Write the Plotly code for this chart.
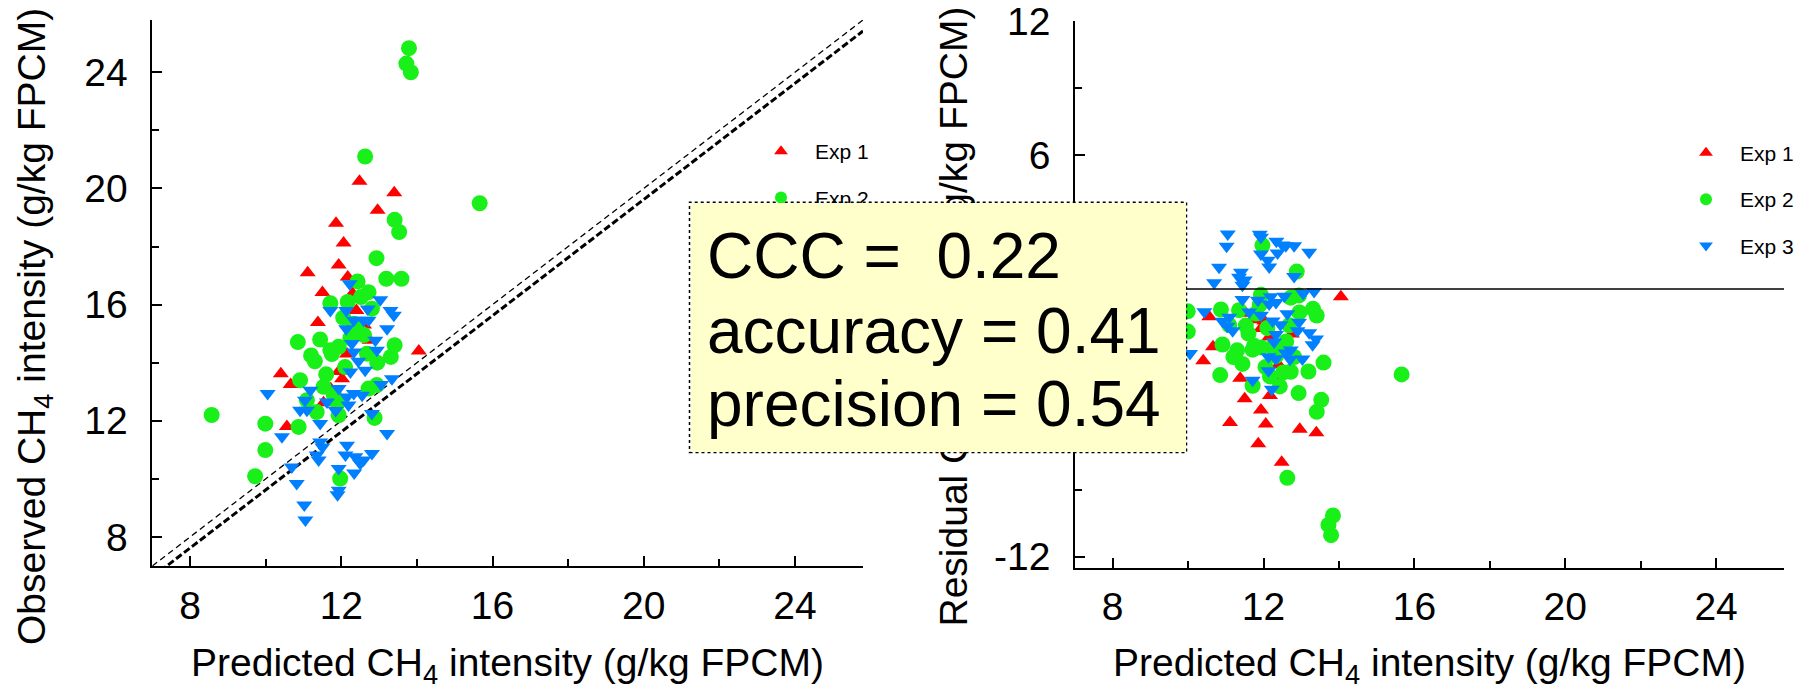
import plotly.graph_objects as go

W, H = 1795, 690
FONT = "Liberation Sans, Arial, sans-serif"

# ---------------- data ----------------
exp_names = ["Exp 1", "Exp 2", "Exp 3"]
exp_colors = ["#FF0000", "#19F019", "#0080FF"]
exp_symbols = ["triangle-up", "circle", "triangle-down"]
exp_sizes = [14, 16, 14]

exp1_pred = [12.48, 13.40, 12.96, 11.86, 12.06, 11.93, 11.11, 12.17, 11.50, 12.40,
             11.38, 12.75, 14.05, 12.15, 11.93, 10.40, 10.66, 12.02, 11.53, 10.56,
             11.72, 12.30, 12.60]
exp1_obs = [20.25, 19.85, 19.25, 18.80, 18.12, 17.36, 17.10, 16.95, 16.42, 15.80,
            15.38, 14.77, 14.40, 14.30, 13.70, 13.62, 13.25, 13.45, 12.62, 11.80,
            13.10, 16.38, 15.30]

exp2_pred = [13.79, 13.72, 13.84, 12.63, 15.66, 13.41, 13.53, 12.93, 13.19, 13.59,
             12.43, 12.72, 12.52, 11.71, 12.17, 12.81, 12.33, 12.45, 10.85, 11.44,
             11.20, 11.71, 11.93, 11.75, 12.68, 13.41, 13.31, 10.91, 11.53, 11.09,
             11.35, 11.93, 11.90, 12.72, 12.94, 12.88, 9.99, 10.87, 8.57, 9.99,
             9.72, 11.97, 12.24, 12.10, 11.30, 12.05, 12.60, 11.60, 12.95, 11.80]
exp2_obs = [24.83, 24.30, 24.00, 21.10, 19.49, 18.92, 18.50, 17.60, 16.89, 16.89,
            16.80, 16.43, 16.26, 16.05, 16.09, 15.86, 15.34, 15.10, 14.71, 14.80,
            14.25, 14.43, 14.55, 14.30, 14.31, 14.60, 14.20, 13.40, 13.17, 12.71,
            12.30, 12.19, 12.60, 13.11, 13.23, 12.10, 11.90, 11.79, 12.20, 10.99,
            10.09, 10.01, 14.85, 13.85, 14.05, 15.55, 14.95, 13.60, 14.00, 12.90]

exp3_pred = [12.22, 13.03, 11.71, 12.13, 13.30, 13.39, 12.33, 12.59, 12.72, 12.13,
             13.21, 12.28, 12.90, 12.94, 12.33, 12.24, 12.63, 13.34, 10.05, 11.18,
             11.04, 10.91, 11.09, 11.62, 11.93, 12.15, 12.33, 12.55, 12.19, 12.81,
             11.44, 10.43, 13.21, 11.44, 12.15, 11.35, 11.40, 10.69, 10.82, 11.93,
             11.93, 12.37, 12.50, 12.59, 12.81, 11.02, 11.05, 11.90, 12.34, 11.50,
             12.11, 12.70, 12.45, 13.05, 11.85]
exp3_obs = [16.72, 16.17, 15.80, 15.80, 15.80, 15.63, 15.46, 15.46, 15.46, 15.17,
            15.17, 14.66, 14.77, 14.43, 14.37, 13.68, 13.74, 13.45, 12.94, 13.05,
            12.71, 12.36, 12.36, 12.65, 13.11, 12.82, 12.94, 12.88, 12.54, 12.25,
            11.91, 11.45, 11.56, 11.27, 11.16, 10.82, 10.65, 10.41, 9.84, 10.36,
            9.61, 10.76, 10.53, 10.65, 10.87, 9.10, 8.58, 9.45, 10.20, 11.10,
            10.82, 15.85, 14.05, 13.25, 12.35]

# axis ranges / ticks
x_range = [7.0, 25.8]
obs_range = [7.0, 25.8]
res_range = [-12.5, 12.02]
res_tickvals = [-12, -6, 0, 6, 12]
res_ticktext = ["-12", "-6", "0", "6", "12"]

# 1:1 line and fitted line (dashed)
fit_intercept = -0.38
fit_slope = 1.0

stats_lines = ["CCC =  0.22", "accuracy = 0.41", "precision = 0.54"]

x_title = "Predicted CH<sub>4</sub> intensity (g/kg FPCM)"
y_title_left = "Observed CH<sub>4</sub> intensity (g/kg FPCM)"
y_title_right = "Residual CH<sub>4</sub> intensity (g/kg FPCM)"

preds = [exp1_pred, exp2_pred, exp3_pred]
obss = [exp1_obs, exp2_obs, exp3_obs]


def px(x):
    return x / W


def py(y):
    return 1 - y / H


fig = go.Figure()

# dashed reference lines (left panel)
fig.add_trace(go.Scatter(
    x=x_range, y=x_range, mode="lines", xaxis="x", yaxis="y",
    line=dict(color="black", width=1.3, dash="6px,4px"), showlegend=False, hoverinfo="skip"))
fig.add_trace(go.Scatter(
    x=x_range, y=[fit_intercept + fit_slope * v for v in x_range], mode="lines",
    xaxis="x", yaxis="y",
    line=dict(color="black", width=3, dash="7px,3px"), showlegend=False, hoverinfo="skip"))

for i in range(3):
    fig.add_trace(go.Scatter(
        x=preds[i], y=obss[i], mode="markers", name=exp_names[i],
        xaxis="x", yaxis="y", legend="legend", legendgroup="L%d" % i,
        marker=dict(symbol=exp_symbols[i], color=exp_colors[i], size=exp_sizes[i],
                    line=dict(width=0)),
        cliponaxis=False))

for i in range(3):
    resid = [p - o for p, o in zip(preds[i], obss[i])]
    fig.add_trace(go.Scatter(
        x=preds[i], y=resid, mode="markers", name=exp_names[i],
        xaxis="x2", yaxis="y2", legend="legend2", legendgroup="R%d" % i,
        marker=dict(symbol=exp_symbols[i], color=exp_colors[i], size=exp_sizes[i],
                    line=dict(width=0)),
        cliponaxis=False))

axis_common = dict(
    showline=True, linecolor="black", linewidth=1.5,
    ticks="inside", ticklen=10, tickwidth=1.5, tickcolor="black",
    showgrid=False, zeroline=False,
    tickfont=dict(family=FONT, size=39, color="black"),
    automargin=False, fixedrange=True,
)


def minor(dt):
    return dict(ticks="inside", ticklen=7, tickwidth=1.5, tickcolor="black",
                tick0=0, dtick=dt, showgrid=False)


xdom_left = [px(152.3), px(863)]
xdom_right = [px(1075), px(1784)]
ydom_left = [py(566), py(20)]
ydom_right = [py(567.7), py(21)]

legend_font = dict(family=FONT, size=21, color="black")

fig.update_layout(
    width=W, height=H,
    margin=dict(l=0, r=0, t=0, b=0, autoexpand=False),
    paper_bgcolor="white", plot_bgcolor="white",
    font=dict(family=FONT, color="black"),
    xaxis=dict(axis_common, domain=xdom_left, anchor="y", range=x_range,
               tick0=0, dtick=4, ticklabelstandoff=4, minor=minor(2)),
    yaxis=dict(axis_common, domain=ydom_left, anchor="x", range=obs_range,
               tick0=0, dtick=4, ticklabelstandoff=15, minor=minor(2)),
    xaxis2=dict(axis_common, domain=xdom_right, anchor="y2", range=x_range,
                tick0=0, dtick=4, ticklabelstandoff=4, minor=minor(2)),
    yaxis2=dict(axis_common, domain=ydom_right, anchor="x2", range=res_range,
                tickmode="array", tickvals=res_tickvals, ticktext=res_ticktext,
                ticklabelstandoff=15, minor=minor(3)),
    legend=dict(x=px(747), y=py(131), xanchor="left", yanchor="top",
                font=legend_font, itemwidth=58, itemsizing="constant", tracegroupgap=16,
                bgcolor="rgba(0,0,0,0)", borderwidth=0),
    legend2=dict(x=px(1672), y=py(132.7), xanchor="left", yanchor="top",
                 font=legend_font, itemwidth=58, itemsizing="constant", tracegroupgap=16,
                 bgcolor="rgba(0,0,0,0)", borderwidth=0),
    showlegend=True,
)

# zero line in residual panel
fig.add_shape(type="line", xref="x2 domain", yref="y2", x0=0, x1=1, y0=0, y1=0,
              line=dict(color="black", width=1.3), layer="above")

# dotted border of the statistics box
fig.add_shape(type="rect", xref="paper", yref="paper",
              x0=px(689.5), x1=px(1186.5), y0=py(452.5), y1=py(202.3),
              line=dict(color="black", width=1.5, dash="dot"), fillcolor="rgba(0,0,0,0)",
              layer="above")

annotations = []
title_font = dict(family=FONT, size=39, color="black")
annotations.append(dict(text=x_title, xref="paper", yref="paper",
                        x=px((152.3 + 863) / 2), y=py(639.5), xanchor="center", yanchor="top",
                        showarrow=False, font=title_font, borderpad=0))
annotations.append(dict(text=x_title, xref="paper", yref="paper",
                        x=px((1075 + 1784) / 2), y=py(639.5), xanchor="center", yanchor="top",
                        showarrow=False, font=title_font, borderpad=0))
annotations.append(dict(text=y_title_left, xref="paper", yref="paper",
                        x=px(35), y=py(327), xanchor="center", yanchor="middle",
                        textangle=-90, showarrow=False, font=title_font, borderpad=0))
annotations.append(dict(text=y_title_right, xref="paper", yref="paper",
                        x=px(955.5), y=py(317), xanchor="center", yanchor="middle",
                        textangle=-90, showarrow=False, font=title_font, borderpad=0))
# statistics box background (drawn above legends and data)
annotations.append(dict(text=" ", xref="paper", yref="paper",
                        x=px(690.5), y=py(203), xanchor="left", yanchor="top",
                        width=495, height=249, bgcolor="#FFFFCC", borderwidth=0,
                        borderpad=0, showarrow=False))
stat_tops = [218.8, 293.8, 367.1]
for txt, top in zip(stats_lines, stat_tops):
    annotations.append(dict(text=txt, xref="paper", yref="paper",
                            x=px(706), y=py(top), xanchor="left", yanchor="top",
                            showarrow=False, borderpad=0,
                            font=dict(family=FONT, size=64, color="black")))
fig.update_layout(annotations=annotations)

fig.write_html("out.html", config={"displayModeBar": False},
               post_script="document.body.style.margin='0px';")
